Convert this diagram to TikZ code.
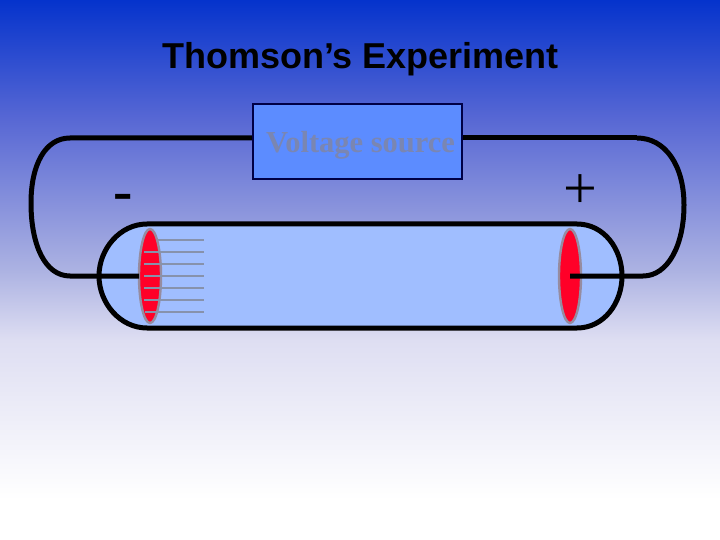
\documentclass[tikz,border=0pt]{standalone}
\usepackage{fontspec}
\setmainfont{Liberation Serif}
\newfontfamily\arialfont{Liberation Sans}
\usetikzlibrary{shapes.geometric}
\definecolor{bgA}{RGB}{5,51,204}
\definecolor{bgB}{RGB}{88,104,212}
\definecolor{bgC}{RGB}{172,178,226}
\definecolor{bgD}{RGB}{222,222,242}
\pgfdeclareverticalshading{slidebg}{100bp}{
  color(0bp)=(white);
  color(28.7bp)=(white);
  color(43.5bp)=(bgD);
  color(50bp)=(bgC);
  color(63.9bp)=(bgB);
  color(75bp)=(bgA);
  color(100bp)=(bgA)}
\definecolor{tubefill}{RGB}{160,190,255}
\definecolor{boxfill}{RGB}{92,140,255}
\definecolor{boxedge}{RGB}{0,0,70}
\definecolor{boxtext}{RGB}{122,134,178}
\definecolor{plate}{RGB}{255,0,40}
\definecolor{rim}{RGB}{150,140,160}
\definecolor{ray}{RGB}{135,146,172}
\tikzset{
  wire/.style={draw=black,line width=5pt},
  tubeline/.style={draw=black,line width=5pt},
  platenode/.style={ellipse,draw=rim,fill=plate,line width=2.4pt,minimum width=22pt,minimum height=94pt,inner sep=0pt,outer sep=0pt},
  raydraw/.style={draw=ray,line width=2pt},
  sourcebox/.style={rectangle,draw=boxedge,fill=boxfill,line width=2.4pt,minimum width=208.5pt,minimum height=75.5pt,inner sep=0pt,outer sep=0pt},
}
\begin{document}
\begin{tikzpicture}[x=1pt,y=-1pt]
\useasboundingbox (0,0) rectangle (720,540);
\shade[shading=slidebg] (0,0) rectangle (720,540);
% tube body
\path[fill=tubefill] (147,224) -- (577,224) .. controls (604,224) and (622,249) .. (622,276)
  .. controls (622,303) and (604,328) .. (577,328) -- (147,328)
  .. controls (120,328) and (99,303) .. (99,276) .. controls (99,249) and (120,224) .. (147,224) -- cycle;
% plates
\node[platenode] (cathode) at (150,276) {};
\node[platenode] (anode) at (570,276) {};
% wires
\coordinate (tl) at (70,138);
\coordinate (tr) at (636.5,138);
\coordinate (tr2) at (637,138);
\coordinate (br) at (643,276);
\coordinate (bl) at (70,276);
\coordinate (boxc) at (357.5,141.5);
\draw[wire] (boxc |- tl) -- (tl) .. controls (45,138) and (31,165) .. (31,203)
  .. controls (31,245) and (45,276) .. (bl) -- (cathode.west);
\draw[wire] (boxc |- tr) -- (tr);
\draw[wire] (tr2) .. controls (665,138) and (684,165) .. (684,205)
  .. controls (684,245) and (668,276) .. (br) -- (anode.center);
\node[sourcebox] (source) at (boxc) {};
\node[font=\bfseries\fontsize{30.5}{32}\selectfont,text=boxtext] (sourcelabel) at (360.5,145.5) {Voltage source};
% tube outline
\draw[tubeline] (147,224) -- (577,224) .. controls (604,224) and (622,249) .. (622,276)
  .. controls (622,303) and (604,328) .. (577,328) -- (147,328)
  .. controls (120,328) and (99,303) .. (99,276) .. controls (99,249) and (120,224) .. (147,224) -- cycle;
% rays
\foreach \yy/\xs in {240/158,252/144,264/144,276/144,288/144,300/144,312/145}{
  \draw[raydraw] (\xs,\yy) -- (204,\yy);
}
\node[font=\arialfont\bfseries\fontsize{36}{40}\selectfont,text=black] (title) at (360.5,59) {Thomson’s Experiment};
\node[font=\bfseries\fontsize{58}{60}\selectfont,text=black,inner sep=0pt] (minus) at (123.5,202) {-};
\node[font=\fontsize{60}{62}\selectfont,text=black,inner sep=0pt] (plus) at (580,192) {+};
\end{tikzpicture}
\end{document}
